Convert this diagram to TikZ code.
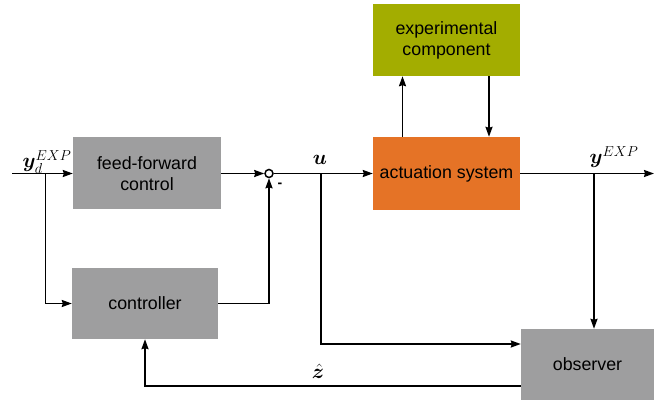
\documentclass[tikz,border=0pt]{standalone}
\usepackage{amsmath,bm}
\usepackage{fontspec}
\setmainfont{Liberation Sans}
\usetikzlibrary{arrows.meta,calc}
\definecolor{boxgray}{RGB}{158,158,159}
\definecolor{actorange}{RGB}{229,115,38}
\definecolor{expolive}{RGB}{163,173,0}
\begin{document}
\begin{tikzpicture}[x=1pt,y=-1pt,
  blk/.style={inner sep=0pt,align=center,font=\fontsize{17.8}{21}\selectfont},
  conn/.style={line width=1.8pt,-{Stealth[length=10pt,width=7pt,inset=1pt]}},
  lbl/.style={inner sep=0pt,font=\fontsize{21}{24}\selectfont}]
\useasboundingbox (0,0) rectangle (655,403);
\node[blk,fill=boxgray,minimum width=148pt,minimum height=72pt] (ff) at (147,173.5) {feed-forward\\control};
\node[blk,fill=boxgray,minimum width=146pt,minimum height=71pt] (ctrl) at (145,303.5) {controller};
\node[blk,fill=actorange,minimum width=147pt,minimum height=73pt] (act) at (446.5,173.5) {actuation system};
\node[blk,fill=expolive,minimum width=147pt,minimum height=72pt] (exp) at (446.5,40) {experimental\\component};
\node[blk,fill=boxgray,minimum width=133pt,minimum height=71pt] (obs) at (587.5,364.5) {observer};
\node[circle,draw,line width=1.5pt,minimum size=8pt,inner sep=0pt] (sum) at (269,173.5) {};
\coordinate (in) at (12,173.5);
\coordinate (b1) at (45.5,173.5);
\coordinate (b2) at (321,173.5);
\coordinate (b3) at (594,173.5);
\coordinate (out) at (654,173.5);
\draw[conn] (in) -- (ff.west);
\draw[conn] (b1) |- (ctrl.west);
\draw[conn] (ff.east) -- (sum.west);
\draw[conn] (ctrl.east) -| (sum.south);
\draw[conn] (sum.east) -- (act.west);
\draw[conn] (b2) |- ([yshift=20.5pt]obs.west);
\draw[conn] (act.east) -- (out);
\draw[conn] (b3) -- (b3 |- obs.north);
\draw[conn] ([yshift=-21.5pt]obs.west) -| (ctrl.south);
\draw[conn] ([xshift=-44pt]act.north) -- ([xshift=-44pt]exp.south);
\draw[conn] ([xshift=42.5pt]exp.south) -- ([xshift=42.5pt]act.north);
\node[lbl] (ly) at (47,162) {$\bm{y}_d^{EXP}$};
\node[lbl] (lu) at (320,160) {$\bm{u}$};
\node[lbl] (lyo) at (614,157) {$\bm{y}^{EXP}$};
\node[lbl] (lz) at (318,371) {$\hat{\bm{z}}$};
\node[lbl,font=\fontsize{14}{16}\selectfont\bfseries] (lm) at (280,185) {-};
\end{tikzpicture}
\end{document}
